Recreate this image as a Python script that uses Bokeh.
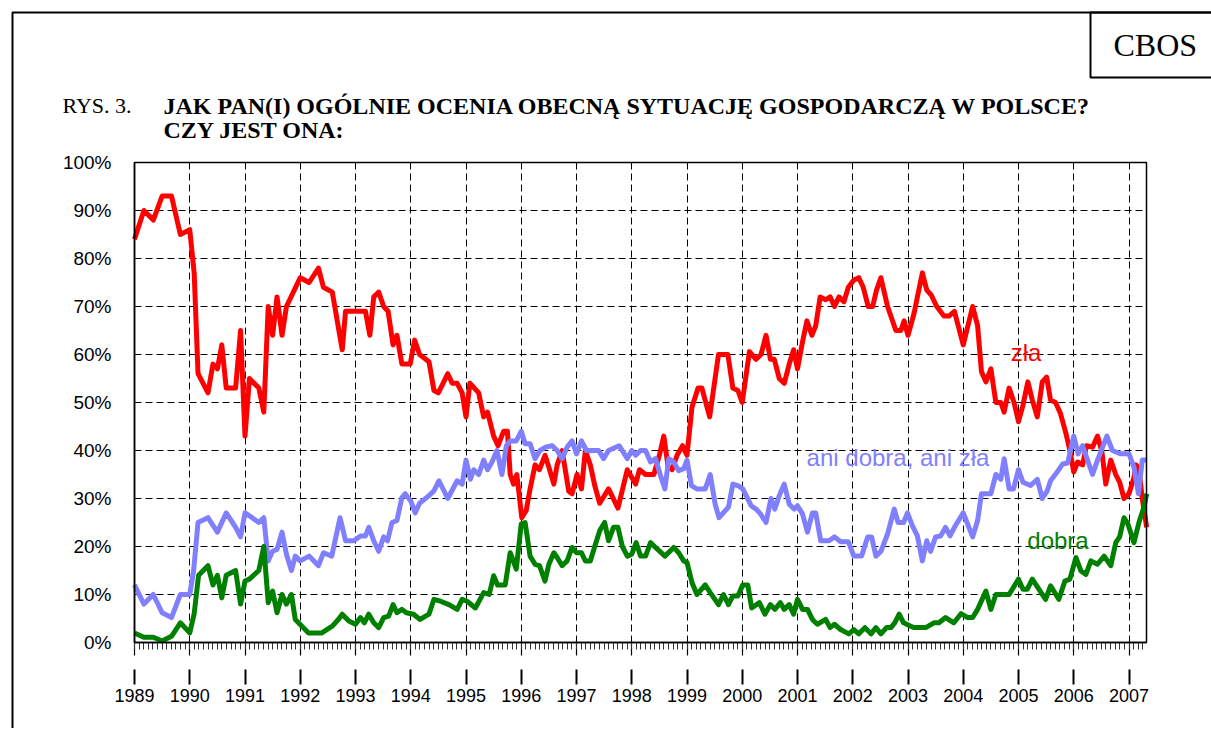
from bokeh.plotting import figure
from bokeh.models import (Range1d, LinearAxis, SingleIntervalTicker, FixedTicker, Grid,
                          PrintfTickFormatter, Label, BoxAnnotation, ColumnDataSource)
from bokeh.embed import file_html
from bokeh.resources import INLINE

# ---------------- data ----------------
zla_t = [1989.00, 1989.17, 1989.34, 1989.50, 1989.67, 1989.83, 1990.00, 1990.08, 1990.15, 1990.33,
         1990.42, 1990.50, 1990.58, 1990.66, 1990.83, 1990.92, 1991.00, 1991.08, 1991.25, 1991.34,
         1991.42, 1991.50, 1991.58, 1991.67, 1991.75, 1992.00, 1992.16, 1992.33, 1992.42, 1992.58,
         1992.76, 1992.82, 1993.18, 1993.26, 1993.33, 1993.42, 1993.51, 1993.59, 1993.68, 1993.75,
         1993.84, 1993.99, 1994.07, 1994.16, 1994.33, 1994.42, 1994.50, 1994.67, 1994.75, 1994.84,
         1994.93, 1995.00, 1995.07, 1995.23, 1995.32, 1995.39, 1995.50, 1995.58, 1995.68, 1995.75,
         1995.80, 1995.86, 1995.92, 1996.01, 1996.09, 1996.16, 1996.25, 1996.33, 1996.43, 1996.50,
         1996.59, 1996.65, 1996.74, 1996.86, 1996.92, 1997.01, 1997.09, 1997.16, 1997.25, 1997.33,
         1997.42, 1997.58, 1997.75, 1997.92, 1998.07, 1998.14, 1998.25, 1998.40, 1998.50, 1998.58,
         1998.66, 1998.73, 1998.82, 1998.92, 1999.00, 1999.09, 1999.20, 1999.27, 1999.41, 1999.57,
         1999.74, 1999.83, 1999.92, 2000.00, 2000.13, 2000.25, 2000.34, 2000.43, 2000.51, 2000.58,
         2000.67, 2000.76, 2000.85, 2000.93, 2001.00, 2001.09, 2001.17, 2001.26, 2001.33, 2001.41,
         2001.51, 2001.59, 2001.67, 2001.75, 2001.84, 2001.92, 2002.02, 2002.11, 2002.19, 2002.28,
         2002.36, 2002.43, 2002.51, 2002.63, 2002.78, 2002.87, 2002.93, 2003.00, 2003.11, 2003.17,
         2003.26, 2003.34, 2003.42, 2003.52, 2003.65, 2003.74, 2003.84, 2004.00, 2004.17, 2004.26,
         2004.33, 2004.41, 2004.50, 2004.59, 2004.68, 2004.74, 2004.83, 2004.92, 2005.00, 2005.08,
         2005.17, 2005.25, 2005.34, 2005.43, 2005.51, 2005.58, 2005.67, 2005.76, 2005.86, 2005.93,
         2006.00, 2006.07, 2006.16, 2006.23, 2006.34, 2006.43, 2006.51, 2006.58, 2006.67, 2006.76,
         2006.83, 2006.91, 2007.00, 2007.09, 2007.13, 2007.18, 2007.24, 2007.32]
zla_v = [84, 90, 88, 93, 93, 85, 86, 77, 56, 52,
         58, 57, 62, 53, 53, 65, 43, 55, 53, 48,
         70, 64, 72, 64, 70, 76, 75, 78, 74, 73,
         61, 69, 69, 64, 72, 73, 70, 69, 62, 64,
         58, 58, 63, 60, 58.5, 52.5, 52, 56, 54, 54,
         52, 47, 54, 52, 47, 48, 43, 41, 44, 44,
         35, 33, 35, 26, 27.5, 32, 37, 36, 39, 36.5,
         33, 37, 40, 31.5, 31, 35, 32, 40, 37, 32.7,
         29, 32, 28, 36, 33, 36, 35, 35, 39, 43,
         36.5, 36, 39, 41, 39, 49, 53, 53, 47, 60,
         60, 53, 52.5, 50, 60.6, 59, 60, 64, 59, 59,
         55, 54, 58, 61, 57, 62.6, 67, 64, 66, 72,
         71.4, 72, 70, 72, 71, 74, 75.5, 76, 74, 70,
         70, 73.4, 76, 70, 65, 65, 67, 64, 68.6, 72,
         77, 73.4, 72.4, 70, 68, 68, 69, 62, 70, 66,
         56.4, 54.3, 57, 50, 50, 48, 53, 50, 46, 49.4,
         54.3, 50.5, 47, 54.3, 55.3, 50.5, 50, 47.7, 43.5, 40,
         35.5, 37.6, 37, 41, 40.7, 43, 39.7, 33, 38, 35,
         33.4, 30, 31, 34.4, 37, 36, 30, 24]

ani_t = [1989.00, 1989.17, 1989.34, 1989.50, 1989.67, 1989.83, 1990.00, 1990.07, 1990.15, 1990.33,
         1990.50, 1990.66, 1990.83, 1990.92, 1991.00, 1991.13, 1991.25, 1991.34, 1991.42, 1991.50,
         1991.58, 1991.67, 1991.75, 1991.84, 1991.91, 1992.00, 1992.16, 1992.33, 1992.42, 1992.57,
         1992.72, 1992.82, 1992.97, 1993.09, 1993.18, 1993.24, 1993.33, 1993.42, 1993.51, 1993.58,
         1993.66, 1993.75, 1993.84, 1993.90, 1994.00, 1994.08, 1994.16, 1994.33, 1994.42, 1994.51,
         1994.67, 1994.84, 1994.93, 1995.00, 1995.08, 1995.14, 1995.23, 1995.32, 1995.39, 1995.47,
         1995.56, 1995.65, 1995.73, 1995.80, 1995.91, 1996.00, 1996.07, 1996.16, 1996.25, 1996.34,
         1996.44, 1996.56, 1996.65, 1996.74, 1996.83, 1996.92, 1997.00, 1997.09, 1997.18, 1997.40,
         1997.49, 1997.58, 1997.77, 1997.92, 1998.00, 1998.07, 1998.16, 1998.25, 1998.34, 1998.43,
         1998.52, 1998.60, 1998.67, 1998.76, 1998.85, 1998.94, 1999.00, 1999.08, 1999.18, 1999.33,
         1999.42, 1999.51, 1999.58, 1999.75, 1999.83, 1999.92, 2000.01, 2000.16, 2000.25, 2000.33,
         2000.43, 2000.52, 2000.59, 2000.67, 2000.76, 2000.85, 2000.94, 2001.00, 2001.09, 2001.18,
         2001.27, 2001.33, 2001.42, 2001.57, 2001.67, 2001.78, 2001.92, 2002.02, 2002.16, 2002.27,
         2002.34, 2002.42, 2002.51, 2002.63, 2002.75, 2002.82, 2002.92, 2002.99, 2003.08, 2003.17,
         2003.26, 2003.34, 2003.41, 2003.50, 2003.59, 2003.68, 2003.76, 2003.84, 2004.00, 2004.17,
         2004.26, 2004.33, 2004.50, 2004.59, 2004.68, 2004.74, 2004.83, 2004.91, 2005.00, 2005.08,
         2005.22, 2005.34, 2005.43, 2005.52, 2005.58, 2005.70, 2005.80, 2005.89, 2006.00, 2006.08,
         2006.16, 2006.34, 2006.43, 2006.60, 2006.70, 2006.85, 2007.00, 2007.09, 2007.17, 2007.24,
         2007.32]
ani_v = [12, 8, 10, 6.2, 5.2, 10, 10, 15, 25, 26,
         23, 27, 24, 22, 27, 26, 25, 26, 17, 19,
         19.4, 23, 18.4, 15, 18, 17, 18, 16, 18.7, 18,
         26, 21.2, 21.2, 22.2, 22.2, 24, 21.2, 19, 22, 21.2,
         25, 25.4, 30.2, 31, 29.5, 27, 29, 30.6, 31.6, 33.7,
         30, 33.7, 33, 38, 34, 36, 35, 38, 36, 37.6,
         40, 35, 41, 42, 42, 44, 41.4, 41.4, 38.3, 40,
         40.7, 41, 40, 38.3, 40.7, 42, 39.3, 42, 40, 40,
         38.3, 40, 41, 38.3, 40, 39, 40, 40, 37.6, 38.3,
         34.8, 32, 38.3, 37.6, 35.8, 36.2, 38, 32.7, 32, 32,
         35, 28.8, 26, 28.2, 33, 32.7, 32, 28.5, 27.8, 26.8,
         25, 30, 27.8, 30.6, 33, 28.8, 27.8, 28.5, 26.8, 23,
         27, 27, 21.2, 21.2, 22, 21, 21, 18, 18, 22,
         22, 18, 19, 22.6, 27.8, 25, 25, 27, 24.3, 22.2,
         17, 21.2, 19, 22, 22.2, 24, 22.2, 24, 27, 22,
         25.4, 31, 31, 35, 34, 38.3, 32, 32, 36, 33.4,
         32.7, 34, 30, 31.6, 33.7, 35.5, 37.2, 37.4, 43, 39.3,
         41, 35, 38, 43, 40, 39.3, 39.3, 36.5, 31, 38,
         38]

dobra_t = [1989.00, 1989.17, 1989.34, 1989.50, 1989.67, 1989.83, 1990.00, 1990.08, 1990.16, 1990.33,
           1990.42, 1990.50, 1990.58, 1990.66, 1990.83, 1990.92, 1991.00, 1991.08, 1991.25, 1991.34,
           1991.42, 1991.50, 1991.58, 1991.67, 1991.75, 1991.84, 1991.91, 1992.15, 1992.39, 1992.58,
           1992.69, 1992.76, 1992.88, 1993.00, 1993.09, 1993.16, 1993.24, 1993.33, 1993.42, 1993.51,
           1993.60, 1993.68, 1993.75, 1993.84, 1993.92, 1994.05, 1994.17, 1994.33, 1994.42, 1994.54,
           1994.69, 1994.84, 1994.93, 1995.02, 1995.17, 1995.32, 1995.42, 1995.50, 1995.57, 1995.71,
           1995.80, 1995.91, 1996.00, 1996.07, 1996.16, 1996.25, 1996.33, 1996.43, 1996.50, 1996.59,
           1996.65, 1996.74, 1996.83, 1996.92, 1997.00, 1997.09, 1997.16, 1997.25, 1997.33, 1997.42,
           1997.51, 1997.58, 1997.67, 1997.75, 1997.83, 1997.92, 1998.00, 1998.08, 1998.16, 1998.25,
           1998.34, 1998.43, 1998.60, 1998.76, 1998.85, 1998.94, 1999.00, 1999.09, 1999.18, 1999.33,
           1999.42, 1999.57, 1999.66, 1999.75, 1999.83, 1999.92, 2000.01, 2000.10, 2000.17, 2000.31,
           2000.41, 2000.51, 2000.59, 2000.69, 2000.76, 2000.85, 2000.93, 2001.00, 2001.09, 2001.18,
           2001.27, 2001.36, 2001.51, 2001.59, 2001.67, 2001.78, 2001.93, 2002.02, 2002.11, 2002.22,
           2002.33, 2002.42, 2002.51, 2002.61, 2002.69, 2002.76, 2002.84, 2002.92, 2003.05, 2003.11,
           2003.32, 2003.47, 2003.56, 2003.68, 2003.83, 2003.96, 2004.08, 2004.17, 2004.26, 2004.41,
           2004.50, 2004.59, 2004.83, 2005.00, 2005.08, 2005.16, 2005.25, 2005.49, 2005.58, 2005.73,
           2005.84, 2005.93, 2006.04, 2006.13, 2006.22, 2006.31, 2006.43, 2006.55, 2006.67, 2006.76,
           2006.83, 2006.91, 2006.98, 2007.09, 2007.18, 2007.27, 2007.32]
dobra_v = [2, 1.1, 1.1, 0.3, 1.3, 4.1, 2, 6, 14, 16,
           12, 14, 9.3, 14, 15, 8, 12.8, 13.2, 15, 20,
           8.3, 10.7, 6.2, 10, 8, 10, 4.8, 2, 2, 3.4,
           4.8, 5.9, 4.5, 3.8, 5.2, 4.1, 5.9, 4.1, 3.1, 5.2,
           5.5, 7.9, 6.2, 6.9, 6.2, 5.9, 4.8, 5.9, 9, 8.6,
           7.9, 6.9, 9, 8.6, 7.2, 10.4, 10, 13.9, 12, 12,
           18.7, 15.3, 24.7, 25, 18, 16.3, 16, 12.8, 16.3, 18.7,
           17.7, 16, 17, 19.8, 18.7, 18.7, 17, 17, 20, 23.3,
           25, 21.2, 24, 24, 20, 18, 18.4, 20.8, 18, 18,
           20.8, 19.8, 18, 19.8, 18.7, 17, 16.7, 12.5, 10, 12,
           10.4, 7.9, 10, 7.9, 9.7, 9.7, 12, 12, 7.2, 8.3,
           5.9, 7.9, 6.9, 8.3, 6.9, 7.9, 5.9, 9, 6.9, 6.9,
           4.8, 3.8, 4.8, 3.1, 3.8, 2.7, 1.8, 2.7, 1.8, 3.1,
           1.8, 3.1, 1.8, 3.1, 3.1, 4.1, 5.9, 4.1, 3.4, 3.1,
           3.1, 4.1, 4.1, 5.2, 4.1, 6, 5.2, 5.2, 6.9, 10.7,
           6.9, 10, 10, 13.2, 11.1, 11.1, 13.2, 9, 11.8, 9,
           12.8, 13.2, 17.7, 14.9, 14.2, 17, 16.3, 18, 16, 20.8,
           22, 26, 24.7, 20.8, 25, 28.2, 31]

series_names = ["zła", "ani dobra, ani zła", "dobra"]
series_colors = ["#FF0000", "#8080FF", "#008000"]
year_ticks = list(range(1989, 2008))
pct_ticks = list(range(0, 101, 10))

TITLE_PREFIX = "RYS. 3."
TITLE_1 = "JAK PAN(I) OGÓLNIE OCENIA OBECNĄ SYTUACJĘ GOSPODARCZĄ W POLSCE?"
TITLE_2 = "CZY JEST ONA:"
BRAND = "CBOS"

# ---------------- layout (canvas pixels) ----------------
W, H = 1211, 728
FL, FR, FT, FB = 134, 1146, 162, 642      # plot-area edges
PX_PER_YEAR = 55.25
PX_PER_PCT = (FB - FT) / 100.0
X_START = 1989.0
X_END = X_START + (FR - FL) / PX_PER_YEAR


def dx(px):
    return X_START + (px - FL) / PX_PER_YEAR


def dy(py):
    return (FB - py) / PX_PER_PCT


SANS = "Liberation Sans"
SERIF = "Liberation Serif"

p = figure(width=W, height=H, output_backend="svg", toolbar_location=None,
           x_range=Range1d(dx(0), dx(W)), y_range=Range1d(dy(H), dy(0)),
           x_axis_location=None, y_axis_location=None,
           min_border=0, min_border_left=0, min_border_right=0,
           min_border_top=0, min_border_bottom=0)
p.background_fill_color = "white"
p.border_fill_color = "white"
p.outline_line_color = None
p.grid.visible = False

# grids (dashed, inside plot area only)
xg = Grid(dimension=0, ticker=FixedTicker(ticks=year_ticks), bounds=(X_START, X_END),
          cross_bounds=(0, 100), grid_line_color="black", grid_line_dash="7 4",
          grid_line_width=1, level="underlay")
yg = Grid(dimension=1, ticker=FixedTicker(ticks=pct_ticks), bounds=(0, 100),
          cross_bounds=(X_START, X_END), grid_line_color="black", grid_line_dash="7 4",
          grid_line_width=1, level="underlay")
p.add_layout(xg)
p.add_layout(yg)

# y axis
yax = LinearAxis(ticker=FixedTicker(ticks=pct_ticks),
                 formatter=PrintfTickFormatter(format="%d%%"),
                 fixed_location=X_START, bounds=(0, 100))
yax.major_tick_in = 0
yax.major_tick_out = 0
yax.minor_tick_in = 0
yax.minor_tick_out = 0
yax.axis_line_color = "black"
yax.axis_line_width = 1.5
yax.major_label_standoff = 23
yax.major_label_text_font = SANS
yax.major_label_text_font_size = "19px"
yax.major_label_text_color = "black"
p.add_layout(yax, "left")

# x axis 1: axis line + year and monthly ticks (no labels)
xax = LinearAxis(ticker=SingleIntervalTicker(interval=1, num_minor_ticks=12),
                 fixed_location=0, bounds=(X_START, X_END))
xax.axis_line_color = "black"
xax.axis_line_width = 1.5
xax.major_tick_in = 2
xax.major_tick_out = 13
xax.major_tick_line_color = "black"
xax.major_tick_line_width = 1.2
xax.minor_tick_in = 0
xax.minor_tick_out = 7
xax.minor_tick_line_color = "#333333"
xax.major_label_text_color = None
p.add_layout(xax, "below")

# x axis 2: separate year marks + year labels
xax2 = LinearAxis(ticker=FixedTicker(ticks=year_ticks), fixed_location=dy(669),
                  bounds=(X_START, X_END))
xax2.axis_line_color = None
xax2.major_tick_in = 0
xax2.major_tick_out = 15
xax2.major_tick_line_width = 2
xax2.major_tick_line_color = "black"
xax2.minor_tick_line_color = None
xax2.major_label_standoff = 4
xax2.major_label_text_font = SANS
xax2.major_label_text_font_size = "18px"
xax2.major_label_text_color = "black"
p.add_layout(xax2, "below")

# series
for t, v, c in ((zla_t, zla_v, series_colors[0]),
                (ani_t, ani_v, series_colors[1]),
                (dobra_t, dobra_v, series_colors[2])):
    src = ColumnDataSource(dict(t=t, v=v))
    p.line("t", "v", source=src, line_color=c, line_width=5, line_join="round")

# plot-area border (top and right solid)
p.add_layout(BoxAnnotation(left=X_START, right=X_END, bottom=0, top=100,
                           fill_color=None, line_color="black", line_alpha=1.0,
                           line_width=1.5))

# series labels
for name, c, (lx, ly) in zip(series_names, series_colors,
                             [(1025.5, 352), (897.5, 457), (1057.5, 540)]):
    p.add_layout(Label(x=dx(lx), y=dy(ly), text=name, text_color=c,
                       text_font=SANS, text_font_size="24px",
                       text_align="center", text_baseline="middle"))

# outer frame and CBOS box
p.add_layout(BoxAnnotation(left=dx(12), right=dx(W + 50), top=dy(12), bottom=dy(H + 50),
                           fill_color=None, line_color="black", line_alpha=1.0,
                           line_width=2))
p.add_layout(BoxAnnotation(left=dx(1090), right=dx(W + 50), top=dy(12), bottom=dy(77),
                           fill_color=None, line_color="black", line_alpha=1.0,
                           line_width=2))
p.add_layout(Label(x=dx(1113), y=dy(44), text=BRAND, text_font=SERIF,
                   text_font_size="32px", text_color="black", text_baseline="middle"))

# titles
p.add_layout(Label(x=dx(62), y=dy(105), text=TITLE_PREFIX, text_font=SERIF,
                   text_font_size="22px", text_color="black", text_baseline="middle"))
p.add_layout(Label(x=dx(163), y=dy(105), text=TITLE_1, text_font=SERIF,
                   text_font_size="24px", text_font_style="bold", text_color="black",
                   text_baseline="middle"))
p.add_layout(Label(x=dx(163), y=dy(129), text=TITLE_2, text_font=SERIF,
                   text_font_size="24px", text_font_style="bold", text_color="black",
                   text_baseline="middle"))

open("out.html", "w").write(file_html(p, INLINE))
